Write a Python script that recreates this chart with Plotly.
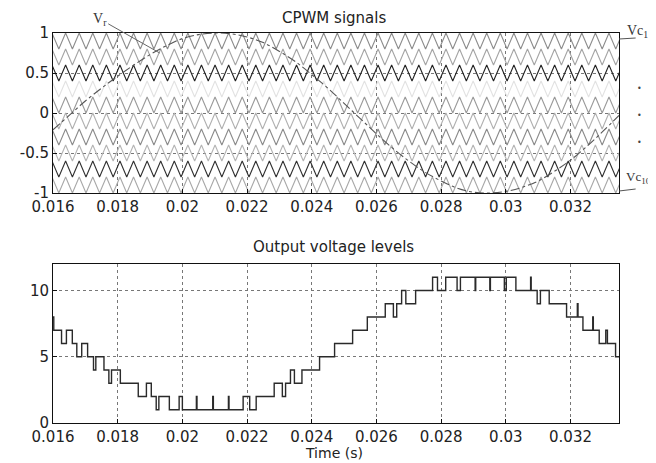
import plotly.graph_objects as go

# ---------------- data: top panel (CPWM signals) ----------------
ref_t = [0.0160, 0.0165, 0.0170, 0.0175, 0.0180, 0.0185, 0.0190, 0.0195, 0.0200,
         0.0205, 0.0210, 0.0215, 0.0220, 0.0225, 0.0230, 0.0235, 0.0240, 0.0245,
         0.0250, 0.0255, 0.0260, 0.0265, 0.0270, 0.0275, 0.0280, 0.0285, 0.0290,
         0.0295, 0.0300, 0.0305, 0.0310, 0.0315, 0.0320, 0.0325, 0.0330, 0.0335]
ref_v = [-0.21, -0.03, 0.15, 0.31, 0.46, 0.60, 0.73, 0.84, 0.93,
         0.98, 1.00, 0.99, 0.95, 0.88, 0.77, 0.64, 0.48, 0.31,
         0.12, -0.07, -0.26, -0.44, -0.60, -0.74, -0.85, -0.94, -0.99,
         -1.00, -0.98, -0.93, -0.85, -0.73, -0.59, -0.42, -0.23, -0.03]

carrier_names = ["Vc1", "Vc2", "Vc3", "Vc4", "Vc5", "Vc6", "Vc7", "Vc8", "Vc9", "Vc10"]
carrier_low = [0.8, 0.6, 0.4, 0.2, 0.0, -0.2, -0.4, -0.6, -0.8, -1.0]
carrier_high = [1.0, 0.8, 0.6, 0.4, 0.2, 0.0, -0.2, -0.4, -0.6, -0.8]
carrier_colors = ["#8c8c8c", "#a4a4a4", "#222222", "#e2e2e2", "#9a9a9a",
                  "#b0b0b0", "#8a8a8a", "#b4b4b4", "#303030", "#a8a8a8"]
carrier_period = 0.00042
carrier_first_trough = 0.01576
carrier_end = 0.0338

top_xticks = [0.016, 0.018, 0.020, 0.022, 0.024, 0.026, 0.028, 0.030, 0.032]
top_xtext = ["0.016", "0.018", "0.02", "0.022", "0.024", "0.026", "0.028", "0.03", "0.032"]
top_yticks = [-1, -0.5, 0, 0.5, 1]
top_ytext = ["-1", "-0.5", "0", "0.5", "1"]

# ---------------- data: bottom panel (output voltage levels) ----------------
step_t = [0.016000, 0.016024, 0.016264, 0.016415, 0.016597, 0.016736, 0.016888, 0.017070,
          0.017252, 0.017324, 0.017576, 0.017727, 0.017809, 0.018082, 0.018636, 0.018888,
          0.019039, 0.019191, 0.019273, 0.019597, 0.019900, 0.020000, 0.020433, 0.020452,
          0.020939, 0.020958, 0.021424, 0.021442, 0.021879, 0.022082, 0.022282, 0.022839,
          0.023091, 0.023191, 0.023342, 0.023464, 0.023697, 0.024242, 0.024706, 0.025264,
          0.025718, 0.026273, 0.026524, 0.026627, 0.026779, 0.026909, 0.027212, 0.027736,
          0.027888, 0.028142, 0.028494, 0.028597, 0.029052, 0.029070, 0.029506, 0.029524,
          0.029955, 0.030015, 0.030312, 0.030767, 0.030785, 0.030970, 0.031070, 0.031342,
          0.031879, 0.032212, 0.032233, 0.032385, 0.032688, 0.032706, 0.032888, 0.033091,
          0.033142, 0.033394, 0.033500]
step_level = [8, 7, 6, 7, 6, 5, 6, 5,
              4, 5, 4, 3, 4, 3, 2, 3,
              2, 1, 2, 1, 2, 1, 2, 1,
              2, 1, 2, 1, 2, 1, 2, 3,
              2, 3, 4, 3, 4, 5, 6, 7,
              8, 9, 8, 9, 10, 9, 10, 11,
              10, 11, 10, 11, 10, 11, 10, 11,
              10, 11, 10, 11, 10, 9, 10, 9,
              8, 9, 8, 7, 8, 7, 6, 7,
              6, 5, 5]

bot_xticks = top_xticks
bot_xtext = top_xtext
bot_yticks = [0, 5, 10]
bot_ytext = ["0", "5", "10"]

# ---------------- figure ----------------
fig = go.Figure()

half = carrier_period / 2
n_vert = int((carrier_end - carrier_first_trough) / half) + 1
vert_t = [carrier_first_trough + k * half for k in range(n_vert)]
for name, lo, hi, col in zip(carrier_names, carrier_low, carrier_high, carrier_colors):
    vals = [lo if k % 2 == 0 else hi for k in range(n_vert)]
    fig.add_trace(go.Scatter(x=vert_t, y=vals, mode="lines", name=name,
                             line=dict(color=col, width=1.1),
                             xaxis="x", yaxis="y", showlegend=False))

fig.add_trace(go.Scatter(x=ref_t, y=ref_v, mode="lines", name="Vr",
                         line=dict(color="#555555", width=1.1, dash="dashdot", shape="spline"),
                         xaxis="x", yaxis="y", showlegend=False))

fig.add_trace(go.Scatter(x=step_t, y=step_level, mode="lines", name="levels",
                         line=dict(color="#2a2a2a", width=1.4, shape="hv"),
                         xaxis="x2", yaxis="y2", showlegend=False))

FONT = "DejaVu Sans"
axis_common = dict(showline=True, linecolor="#111", linewidth=1, mirror=True,
                   ticks="inside", ticklen=4, tickcolor="#111",
                   showgrid=True, gridcolor="#777", griddash="dot", gridwidth=1,
                   zeroline=False, tickfont=dict(family=FONT, size=15, color="#222"))

# page has an 8px body margin; plot area is placed at x 41..619, y 33..423 of the window
OFF = 8
H = 390.0
W = 578.0


def px(x):
    return (x - 41) / W


def py(y):
    return (423 - y) / H


fig.update_layout(
    width=656 - OFF, height=463 - OFF,
    margin=dict(l=41 - OFF, r=37, t=33 - OFF, b=40, pad=0),
    paper_bgcolor="white", plot_bgcolor="white",
    xaxis=dict(domain=[0, 1], anchor="y", range=[0.016, 0.0335],
               tickvals=top_xticks, ticktext=top_xtext, **axis_common),
    yaxis=dict(domain=[py(193), 1], anchor="x", range=[-1, 1],
               tickvals=top_yticks, ticktext=top_ytext, **axis_common),
    xaxis2=dict(domain=[0, 1], anchor="y2", range=[0.016, 0.0335],
                tickvals=bot_xticks, ticktext=bot_xtext, **axis_common),
    yaxis2=dict(domain=[0, py(264)], anchor="x2", range=[0, 12],
                tickvals=bot_yticks, ticktext=bot_ytext, **axis_common),
)

annots = [
    dict(text="CPWM signals", x=px(328), y=py(18), xref="paper", yref="paper",
         xanchor="center", yanchor="middle",
         showarrow=False, font=dict(family=FONT, size=15, color="#222")),
    dict(text="Output voltage levels", x=px(327), y=py(247), xref="paper", yref="paper",
         xanchor="center", yanchor="middle",
         showarrow=False, font=dict(family=FONT, size=15, color="#222")),
    dict(text="Time (s)", x=px(328), y=py(453), xref="paper", yref="paper",
         xanchor="center", yanchor="middle",
         showarrow=False, font=dict(family=FONT, size=14, color="#222")),
    # V_r label with leader to the reference curve
    dict(text="V<sub>r</sub>", x=0.01930, y=0.75, xref="x", yref="y",
         showarrow=True, arrowhead=0, arrowwidth=1, arrowcolor="#666",
         ax=-60, ay=-34, standoff=0,
         font=dict(family="Liberation Serif", size=14, color="#333")),
    dict(text="Vc<sub>1</sub>", x=px(625), y=py(31), xref="paper", yref="paper",
         xanchor="left", yanchor="middle", showarrow=False,
         font=dict(family="Liberation Serif", size=14, color="#333")),
    dict(text="Vc<sub>10</sub>", x=px(624), y=py(177), xref="paper", yref="paper",
         xanchor="left", yanchor="middle", showarrow=False,
         font=dict(family="Liberation Serif", size=13, color="#333")),
]
for yy in (88, 115, 142):
    annots.append(dict(text="•", x=px(640), y=py(yy), xref="paper", yref="paper",
                       xanchor="center", yanchor="middle",
                       showarrow=False, font=dict(family=FONT, size=8, color="#444")))
fig.update_layout(annotations=annots)

fig.update_layout(shapes=[
    dict(type="line", xref="paper", yref="paper", x0=px(619), x1=px(636),
         y0=py(39), y1=py(38), line=dict(color="#555", width=1)),
    dict(type="line", xref="paper", yref="paper", x0=px(619), x1=px(636),
         y0=py(191), y1=py(189), line=dict(color="#555", width=1)),
])

fig.write_html("out.html")
